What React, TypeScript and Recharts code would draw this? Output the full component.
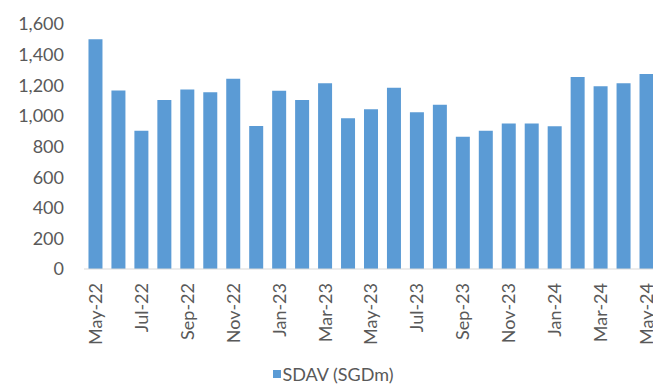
import React from 'react';
import { BarChart, Bar, XAxis, YAxis, Legend } from 'recharts';

const months = [
  'May-22', 'Jun-22', 'Jul-22', 'Aug-22', 'Sep-22', 'Oct-22', 'Nov-22', 'Dec-22',
  'Jan-23', 'Feb-23', 'Mar-23', 'Apr-23', 'May-23', 'Jun-23', 'Jul-23', 'Aug-23',
  'Sep-23', 'Oct-23', 'Nov-23', 'Dec-23', 'Jan-24', 'Feb-24', 'Mar-24', 'Apr-24', 'May-24',
];

const sdav = [
  1500, 1165, 903, 1104, 1173, 1154, 1243, 934,
  1164, 1104, 1213, 984, 1043, 1184, 1023, 1073,
  864, 903, 951, 951, 932, 1254, 1193, 1213, 1273,
];

const yTicks = [0, 200, 400, 600, 800, 1000, 1200, 1400, 1600];

const data = months.map((m, i) => ({ month: m, sdav: sdav[i] }));

const FONT = 'Lato, sans-serif';
const BLUE = '#5b9bd5';
const TEXT = '#595959';

const MonthTick = (props: any) => {
  const { x, y, payload } = props;
  return (
    <g transform={`translate(${x},${y})`}>
      <text
        transform="rotate(-90)"
        textAnchor="end"
        dy="0.36em"
        fill={TEXT}
        fontSize={18}
        fontFamily={FONT}
      >
        {payload.value}
      </text>
    </g>
  );
};

const LegendBox = () => (
  <div
    style={{
      display: 'flex',
      justifyContent: 'center',
      alignItems: 'center',
      fontFamily: FONT,
      fontSize: 18,
      color: TEXT,
      paddingLeft: 8,
    }}
  >
    <span style={{ width: 8, height: 8, background: BLUE, marginRight: 2, display: 'inline-block' }} />
    <span>SDAV (SGDm)</span>
  </div>
);

export default function App() {
  return (
    <div style={{ position: 'absolute', left: 0, top: 0, width: 653, height: 387, overflow: 'hidden', background: '#fff' }}>
      <BarChart
        width={670}
        height={387}
        data={data}
        margin={{ top: 24, right: 12, bottom: 0, left: 0 }}
        barCategoryGap="19.5%"
      >
        <XAxis
          dataKey="month"
          interval={1}
          tick={<MonthTick />}
          tickLine={false}
          tickSize={12}
          tickMargin={2}
          height={94}
          axisLine={{ stroke: '#d9d9d9' }}
        />
        <YAxis
          domain={[0, 1600]}
          ticks={yTicks}
          width={84}
          axisLine={false}
          tickLine={false}
          tickSize={18}
          tickMargin={2}
          tickFormatter={(v: number) => v.toLocaleString('en-US')}
          tick={{ fill: TEXT, fontSize: 18, fontFamily: FONT }}
        />
        <Legend verticalAlign="bottom" height={24} content={<LegendBox />} />
        <Bar dataKey="sdav" name="SDAV (SGDm)" fill={BLUE} isAnimationActive={false} />
      </BarChart>
    </div>
  );
}
